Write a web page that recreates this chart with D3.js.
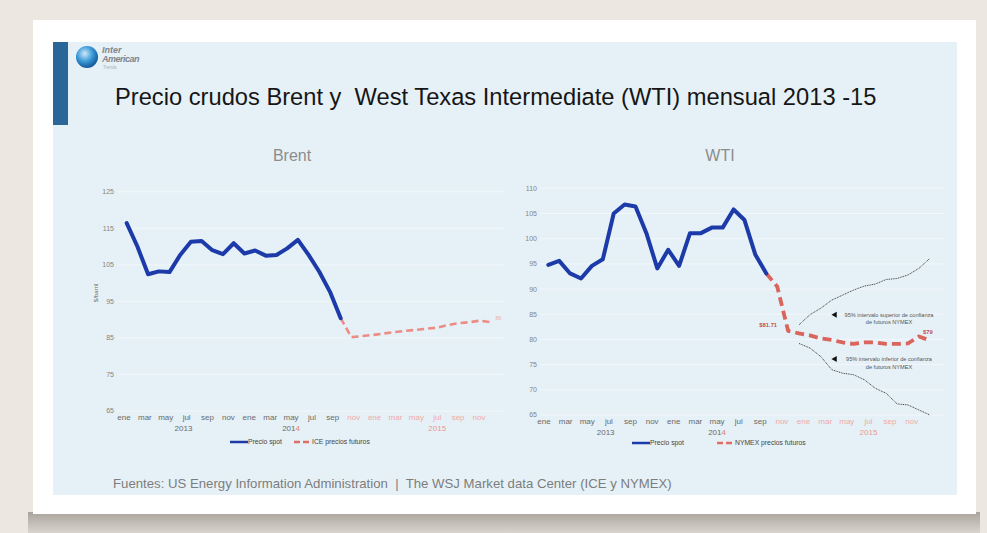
<!DOCTYPE html>
<html>
<head>
<meta charset="utf-8">
<script src="https://cdn.jsdelivr.net/npm/d3@7/dist/d3.min.js"></script>
<style>
  body { margin: 0; background: #ece8e1; }
  svg { display: block; font-family: 'Liberation Sans', Arial, sans-serif; }
</style>
</head>
<body>
<div id="chart"></div>
<script>
// month names used on both x axes (shown every other month)
const months = ['ene', 'feb', 'mar', 'abr', 'may', 'jun', 'jul', 'ago', 'sep', 'oct', 'nov', 'dic'];
const years = ['2013', '2014', '2015'];
const forecastLabelStart = 22; // nov 2014 onward drawn in pink

// Brent, US$/barril, monthly from ene 2013 (index 0)
const brentSpot = [116.4, 110.0, 102.4, 103.2, 103.0, 107.7, 111.3, 111.5, 109.0, 107.9, 110.9,
  108.1, 108.9, 107.5, 107.7, 109.5, 111.8, 107.7, 103.1, 97.6, 90.4];
// ICE futures, from sep 2014 (index 20)
const brentFutures = [90.4, 85.2, 85.5, 85.8, 86.2, 86.6, 86.9, 87.2, 87.5, 87.8, 88.5, 89.0, 89.3, 89.7, 89.3];
const brentTicks = [65, 75, 85, 95, 105, 115, 125];

// WTI spot, from ene 2013
const wtiSpot = [94.8, 95.6, 93.1, 92.1, 94.6, 95.9, 105.0, 106.8, 106.4, 101.1, 94.1,
  97.8, 94.6, 101.1, 101.1, 102.2, 102.2, 105.8, 103.7, 96.8, 93.1];
// NYMEX futures, from sep 2014 (index 20)
const wtiFutures = [93.1, 90.5, 81.71, 81.2, 80.8, 80.2, 79.9, 79.4, 79.1, 79.4, 79.4, 79.1, 79.1, 79.2, 80.6, 79.8];
// 95% confidence band, from dic 2014 (index 23)
const wtiUpper = [82.9, 84.9, 86.2, 87.8, 88.8, 89.8, 90.6, 91.0, 91.9, 92.1, 92.8, 94.1, 96.1];
const wtiLower = [79.2, 78.3, 76.6, 74.0, 73.3, 73.0, 72.0, 70.3, 69.3, 67.2, 67.0, 66.0, 65.0];
const wtiTicks = [65, 70, 75, 80, 85, 90, 95, 100, 105, 110];

const W = 987, H = 533;
const BLUE = '#1c3aa8';

const svg = d3.select('#chart').append('svg')
  .attr('width', W).attr('height', H)
  .attr('viewBox', `0 0 ${W} ${H}`);

const defs = svg.append('defs');
const shadow = defs.append('linearGradient').attr('id', 'shadow').attr('x1', 0).attr('y1', 0).attr('x2', 0).attr('y2', 1);
shadow.append('stop').attr('offset', 0).attr('stop-color', '#a9a49b');
shadow.append('stop').attr('offset', 1).attr('stop-color', '#d9d5ce');
const globe = defs.append('radialGradient').attr('id', 'globe').attr('cx', 0.4).attr('cy', 0.35).attr('r', 0.7);
globe.append('stop').attr('offset', 0).attr('stop-color', '#cfe9fb');
globe.append('stop').attr('offset', 0.5).attr('stop-color', '#3d9ad8');
globe.append('stop').attr('offset', 1).attr('stop-color', '#0d4f8f');

// frame: paper background, card, shadow, light panel
svg.append('rect').attr('width', W).attr('height', H).attr('fill', '#ece8e1');
svg.append('rect').attr('x', 28).attr('y', 512).attr('width', 952).attr('height', 21).attr('fill', 'url(#shadow)');
svg.append('rect').attr('x', 33).attr('y', 20).attr('width', 943).attr('height', 494).attr('fill', '#ffffff');
svg.append('rect').attr('x', 53).attr('y', 42).attr('width', 904).attr('height', 453).attr('fill', '#e6f1f7');
svg.append('rect').attr('x', 53).attr('y', 42).attr('width', 15).attr('height', 83).attr('fill', '#2b6699');

// logo
svg.append('circle').attr('cx', 87).attr('cy', 57).attr('r', 11).attr('fill', 'url(#globe)');
svg.append('text').attr('x', 102).attr('y', 53).attr('font-size', 9).attr('font-style', 'italic')
  .attr('font-weight', 'bold').attr('fill', '#7f858c').text('Inter');
svg.append('text').attr('x', 102).attr('y', 62).attr('font-size', 9).attr('font-style', 'italic')
  .attr('font-weight', 'bold').attr('fill', '#7f858c').attr('letter-spacing', -0.5).text('American');
svg.append('text').attr('x', 103).attr('y', 69).attr('font-size', 4.5)
  .attr('fill', '#a8adb3').text('Trends');

// main title
svg.append('text').attr('x', 115).attr('y', 105).attr('font-size', 23.7).attr('fill', '#161616')
  .style('white-space', 'pre')
  .text('Precio crudos Brent y  West Texas Intermediate (WTI) mensual 2013 -15');

// source
svg.append('text').attr('x', 113).attr('y', 488).attr('font-size', 13.2).attr('fill', '#7d7d7d')
  .style('white-space', 'pre')
  .text('Fuentes: US Energy Information Administration  |  The WSJ Market data Center (ICE y NYMEX)');

function drawChart(cfg) {
  const g = svg.append('g');
  const x = d3.scaleLinear().domain([0, 35]).range(cfg.lineRange);
  const xl = d3.scaleLinear().domain([0, 34]).range(cfg.labelRange);
  const y = d3.scaleLinear().domain(d3.extent(cfg.ticks)).range(cfg.yRange);

  g.append('text').attr('x', cfg.titleX).attr('y', 161).attr('text-anchor', 'middle')
    .attr('font-size', 16).attr('fill', '#8c8c8c').text(cfg.title);

  // faint gridlines + y tick labels
  g.selectAll('.grid').data(cfg.ticks).enter().append('line')
    .attr('x1', cfg.gridX[0]).attr('x2', cfg.gridX[1])
    .attr('y1', (d) => y(d)).attr('y2', (d) => y(d))
    .attr('stroke', '#f1f7fb').attr('stroke-width', 1);
  g.selectAll('.ytick').data(cfg.ticks).enter().append('text')
    .attr('x', cfg.tickX).attr('y', (d) => y(d)).attr('dy', '0.35em').attr('text-anchor', 'end')
    .attr('font-size', 7).attr('fill', '#858585').text((d) => d);

  // x month labels
  const idx = d3.range(0, 35, 2);
  g.selectAll('.xtick').data(idx).enter().append('text')
    .attr('x', (d) => xl(d)).attr('y', cfg.monthY).attr('text-anchor', 'middle')
    .attr('font-size', 8)
    .attr('fill', (d) => (d >= forecastLabelStart ? '#f0aaa6' : '#6a6a6a'))
    .text((d) => months[d % 12]);

  // year labels
  const yearPos = [5.7, 16, 30];
  const yl = g.selectAll('.year').data(years).enter().append('text')
    .attr('x', (d, i) => xl(yearPos[i])).attr('y', cfg.monthY + 11).attr('text-anchor', 'middle')
    .attr('font-size', 8)
    .attr('fill', (d) => (d === '2015' ? '#ec9891' : '#6a6a6a'));
  yl.each(function (d) {
    const t = d3.select(this);
    if (d === '2014') {
      t.append('tspan').text('201');
      t.append('tspan').attr('fill', '#e47d75').text('4');
    } else {
      t.text(d);
    }
  });

  // confidence band (WTI only)
  const line = d3.line().x((d) => x(d.i)).y((d) => y(d.v));
  const toPts = (arr, start) => arr.map((v, k) => ({ i: start + k, v }));

  if (cfg.upper) {
    [cfg.upper, cfg.lower].forEach((arr) => {
      g.append('path').datum(toPts(arr, cfg.bandStart)).attr('d', line)
        .attr('fill', 'none').attr('stroke', '#2a2a2a').attr('stroke-width', 0.9)
        .attr('stroke-dasharray', '1,0.8');
    });
  }

  // futures dashed
  g.append('path').datum(toPts(cfg.futures, 20)).attr('d', line)
    .attr('fill', 'none').attr('stroke', cfg.futColor).attr('stroke-width', cfg.futWidth)
    .attr('stroke-dasharray', cfg.dash).attr('stroke-linejoin', 'round');

  // spot
  g.append('path').datum(toPts(cfg.spot, 0)).attr('d', line)
    .attr('fill', 'none').attr('stroke', BLUE).attr('stroke-width', 4)
    .attr('stroke-linejoin', 'round').attr('stroke-linecap', 'round');

  // legend
  const lg = g.append('g').attr('transform', `translate(${cfg.legendX},${cfg.legendY})`);
  lg.append('line').attr('x1', 0).attr('x2', 18).attr('stroke', BLUE).attr('stroke-width', 2.5);
  lg.append('text').attr('x', 18).attr('y', 2.3).attr('font-size', 6.8).attr('fill', '#444').text('Precio spot');
  lg.append('line').attr('x1', cfg.legendGap).attr('x2', cfg.legendGap + 18)
    .attr('stroke', '#e26d64').attr('stroke-width', 2.5).attr('stroke-dasharray', '6,3');
  lg.append('text').attr('x', cfg.legendGap + 18).attr('y', 2.3).attr('font-size', 6.8)
    .attr('fill', '#444').text(cfg.futLabel);

  return { x, y, g };
}

// Brent
const brent = drawChart({
  title: 'Brent', titleX: 292,
  lineRange: [126.7, 126.7 + 35 * 10.7], labelRange: [124, 479],
  yRange: [411, 191.7], ticks: brentTicks, gridX: [118, 505], tickX: 114, monthY: 420,
  spot: brentSpot, futures: brentFutures, futColor: '#ec8c84', futWidth: 2.6, dash: '7,4',
  legendX: 230, legendY: 442, legendGap: 64, futLabel: 'ICE precios futuros'
});
brent.g.append('text').attr('x', 98).attr('y', 293).attr('font-size', 6).attr('fill', '#6a6a6a')
  .attr('text-anchor', 'middle').attr('transform', 'rotate(-90,98,293)').text('$/barril');
brent.g.append('text').attr('x', brent.x(34) + 5).attr('y', brent.y(brentFutures[14]) - 2)
  .attr('font-size', 5).attr('fill', '#f0a9a3').text('89');

// WTI
const wti = drawChart({
  title: 'WTI', titleX: 720,
  lineRange: [548.3, 548.3 + 35 * 10.9], labelRange: [544, 911.7],
  yRange: [415, 188.3], ticks: wtiTicks, gridX: [540, 945], tickX: 537, monthY: 424,
  spot: wtiSpot, futures: wtiFutures, futColor: '#d9655c', futWidth: 3.8, dash: '9,5',
  upper: wtiUpper, lower: wtiLower, bandStart: 23,
  legendX: 632, legendY: 443, legendGap: 85, futLabel: 'NYMEX precios futuros'
});
wti.g.append('text').attr('x', wti.x(22) - 11).attr('y', wti.y(wtiFutures[2]) - 4)
  .attr('text-anchor', 'end').attr('font-size', 5.8).attr('font-weight', 'bold')
  .attr('fill', '#c0504d').text('$' + wtiFutures[2]);
wti.g.append('text').attr('x', wti.x(35) - 2).attr('y', wti.y(wtiFutures[15]) - 6)
  .attr('text-anchor', 'middle').attr('font-size', 5.8).attr('font-weight', 'bold')
  .attr('fill', '#c0504d').text('$79');

// band annotations
const notes = [
  { v: 84.9, lines: ['95% intervalo superior de confianza', 'de futuros NYMEX'] },
  { v: 76.1, lines: ['95% intervalo inferior de confianza', 'de futuros NYMEX'] }
];
notes.forEach((n) => {
  const cy = wti.y(n.v);
  wti.g.append('path')
    .attr('d', d3.symbol().type(d3.symbolTriangle).size(16)())
    .attr('transform', `translate(${wti.x(26.3)},${cy}) rotate(-90)`)
    .attr('fill', '#111');
  n.lines.forEach((s, k) => {
    wti.g.append('text').attr('x', 889).attr('y', cy + 2 + k * 7.5)
      .attr('text-anchor', 'middle').attr('font-size', 5.6).attr('fill', '#555').text(s);
  });
});
</script>
</body>
</html>
